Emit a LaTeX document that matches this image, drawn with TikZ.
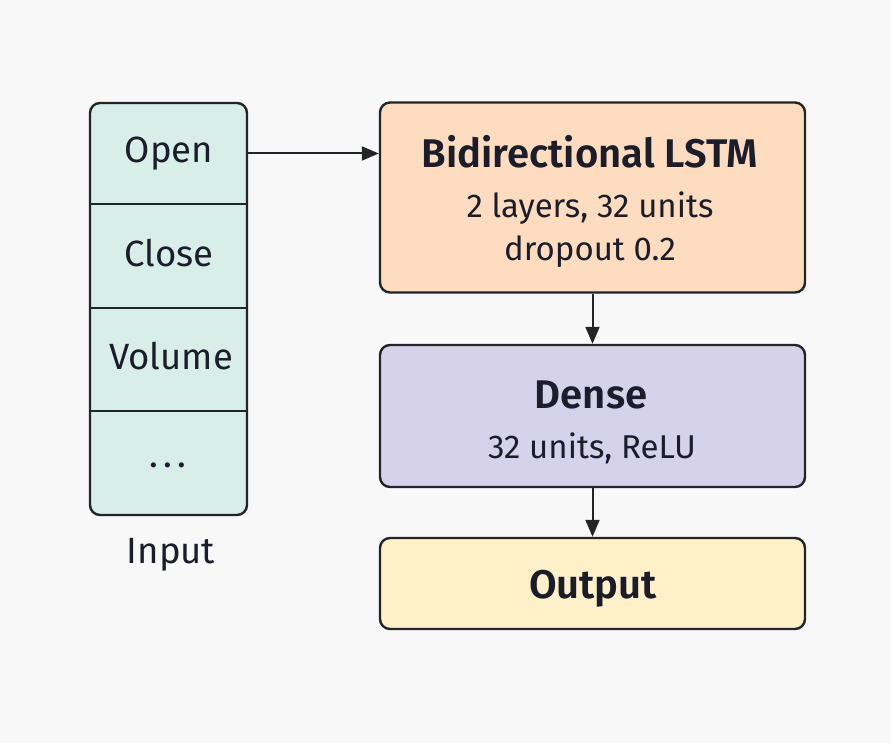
\documentclass[tikz,border=0pt]{standalone}
\usepackage{fontspec}
\setmainfont{Fira Sans}[BoldFont={Fira Sans SemiBold}]
\usetikzlibrary{arrows.meta}
\definecolor{bgc}{HTML}{F8F8F8}
\definecolor{linec}{HTML}{222428}
\definecolor{textc}{HTML}{1B1D2A}
\definecolor{inputc}{HTML}{D7EFE8}
\definecolor{lstmc}{HTML}{FDDCC0}
\definecolor{densec}{HTML}{D6D2EB}
\definecolor{outc}{HTML}{FEF0C8}
\begin{document}
\begin{tikzpicture}[x=1pt,y=-1pt,
  box/.style={draw=linec, line width=2.4pt, rounded corners=10pt, inner sep=0pt},
  cell/.style={inner sep=0pt, minimum width=157pt},
  divline/.style={draw=linec, line width=2.4pt},
  lbl/.style={anchor=base, text=textc, inner sep=0pt, font=\fontsize{33}{38}\selectfont},
  inlbl/.style={lbl, font=\fontsize{36.5}{42}\selectfont},
  ttl/.style={anchor=base, text=textc, inner sep=0pt, font=\fontsize{40}{48}\selectfont\bfseries},
  arr/.style={draw=linec, line width=2pt, -{Triangle[length=17pt,width=14pt]}}]
\fill[bgc] (0,0) rectangle (891,743);
\useasboundingbox (0,0) rectangle (891,743);
% input column
\node[box, fill=inputc, minimum width=157pt, minimum height=412pt] (incol) at (168.5,309) {};
\node[cell, minimum height=101pt] (opencell) at (168.5,153.5) {};
\node[cell, minimum height=104pt] (closecell) at (168.5,256) {};
\node[cell, minimum height=103pt] (volcell) at (168.5,359.5) {};
\node[cell, minimum height=104pt] (dotcell) at (168.5,463) {};
\draw[divline] (opencell.south west) -- (opencell.south east);
\draw[divline] (closecell.south west) -- (closecell.south east);
\draw[divline] (volcell.south west) -- (volcell.south east);
\node[inlbl] (opentxt) at (169,163) {Open};
\node[inlbl] (closetxt) at (169,266) {Close};
\node[inlbl] (voltxt) at (171,369) {Volume};
\node[inlbl] (dottxt) at (168,467) {.\hspace{5pt}.\hspace{5pt}.};
\node[inlbl] (intxt) at (171,563) {Input};
% right boxes
\node[box, fill=lstmc, minimum width=425pt, minimum height=190pt] (lstm) at (592.5,197.5) {};
\node[ttl] (lstmttl) at (590,168) {Bidirectional LSTM};
\node[lbl] (lstm1) at (590,218) {2 layers, 32 units};
\node[lbl] (lstm2) at (590,261) {dropout 0.2};
\node[box, fill=densec, minimum width=425pt, minimum height=142pt] (dense) at (592.5,416) {};
\node[ttl] (densettl) at (591,408) {Dense};
\node[lbl] (dense1) at (592,458) {32 units, ReLU};
\node[box, fill=outc, minimum width=425pt, minimum height=91pt] (out) at (592.5,583.5) {};
\node[ttl] (outttl) at (593,598) {Output};
% connectors
\draw[arr] (opencell.east) -- (opencell.east -| lstm.west);
\draw[arr] (lstm.south) -- (dense.north);
\draw[arr] (dense.south) -- (out.north);
\end{tikzpicture}
\end{document}
